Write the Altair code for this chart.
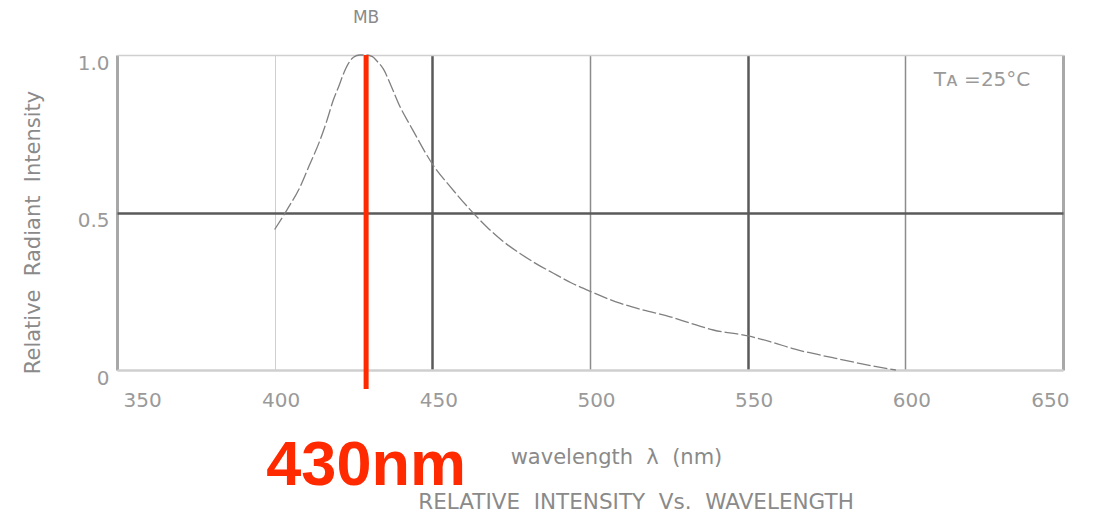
import altair as alt
import pandas as pd

# ---- data ----
wavelength = [400, 404, 408, 411, 414.4, 416.5, 418.6, 420.5, 421.8, 423.5, 425, 427, 429,
              431, 432.5, 434.5, 437, 439.8, 442.5, 445, 447.5, 450.2, 455.6, 461.9, 467.2,
              472, 477.8, 483, 488.4, 494, 500.2, 509.5, 517, 525.4, 532, 539.1, 550.2,
              557.1, 565, 577, 587, 597]
intensity = [0.446, 0.51, 0.58, 0.65, 0.73, 0.79, 0.857, 0.905, 0.94, 0.975, 0.993, 1.0, 1.0,
             0.995, 0.98, 0.955, 0.90, 0.835, 0.785, 0.74, 0.695, 0.651, 0.583, 0.51, 0.455,
             0.412, 0.37, 0.337, 0.307, 0.277, 0.249, 0.212, 0.19, 0.169, 0.148, 0.127, 0.108,
             0.09, 0.066, 0.039, 0.018, 0.0]

x_ticks = [350, 400, 450, 500, 550, 600, 650]
y_ticks = [0, 0.5, 1.0]

peak_nm = [429]
peak_label = ["430nm"]
series_label = ["MB"]
temp_label = ["T\u1d00 =25\u00b0C"]
temp_pos_nm = [609]
temp_pos_val = [0.92]
marker_top = [1.0]
marker_bottom = [-0.06]
baseline_val = [0.0]

NB = "\u00a0"
x_title = f"wavelength{NB}{NB}\u03bb{NB}{NB}(nm)"
y_title = f"Relative{NB}{NB}Radiant{NB}{NB}Intensity"
main_title = [f"RELATIVE{NB}{NB}INTENSITY{NB}{NB}Vs.{NB}{NB}WAVELENGTH"]

curve = pd.DataFrame({"wl": wavelength, "val": intensity})
peak = pd.DataFrame({"wl": peak_nm, "top": marker_top, "bottom": marker_bottom,
                     "base": baseline_val, "label": peak_label, "series": series_label})
temp = pd.DataFrame({"wl": temp_pos_nm, "val": temp_pos_val, "label": temp_label})
caption = pd.DataFrame({"label": main_title})

FONT = "DejaVu Sans"
GREY = "#9a9a9a"

x_scale = alt.Scale(domain=[350, 650], nice=False, zero=False)
y_scale = alt.Scale(domain=[0, 1], nice=False)

x_axis = alt.Axis(
    values=x_ticks, ticks=False, domain=False, labelOffset=6, labelPadding=20,
    labelFontSize=20, labelColor=GREY, labelFont=FONT,
    title=x_title, titleFont=FONT, titleFontSize=21,
    titleFontWeight="normal", titleColor="#8a8a8a",
    titleX=499, titleY=87, titleAlign="center", titleBaseline="middle",
    gridColor={"condition": [
        {"test": "datum.value == 450 || datum.value == 550", "value": "#5a5a5a"},
        {"test": "datum.value == 350 || datum.value == 650", "value": "#a8a8a8"},
        {"test": "datum.value == 400", "value": "#cfcfcf"}],
        "value": "#8c8c8c"},
    gridWidth={"condition": [
        {"test": "datum.value == 450 || datum.value == 550", "value": 2.5},
        {"test": "datum.value == 350 || datum.value == 650", "value": 3},
        {"test": "datum.value == 400", "value": 1}],
        "value": 1.5},
    labelAngle=0,
)

y_axis = alt.Axis(
    values=y_ticks, ticks=False, domain=False, labelOffset=8, labelPadding=8,
    labelFontSize=20, labelColor=GREY, labelFont=FONT,
    labelExpr="datum.value == 0 ? '0' : format(datum.value, '.1f')",
    title=y_title, titleFont=FONT, titleFontSize=21,
    titleFontWeight="normal", titleColor="#8a8a8a", titleAngle=270,
    titleX=-84, titleY=177, titleAlign="center", titleBaseline="middle",
    gridColor={"condition": [
        {"test": "datum.value == 0.5", "value": "#5a5a5a"}],
        "value": "#cfcfcf"},
    gridWidth={"condition": [
        {"test": "datum.value == 0.5", "value": 2.5},
        {"test": "datum.value == 0", "value": 2.5}],
        "value": 1.5},
)

line = alt.Chart(curve).mark_line(
    color="#808080", strokeWidth=1.3, strokeDash=[14, 3], interpolate="monotone"
).encode(
    x=alt.X("wl:Q", scale=x_scale, axis=x_axis),
    y=alt.Y("val:Q", scale=y_scale, axis=y_axis),
)

rule = alt.Chart(peak).mark_rule(color="#ff2a00", strokeWidth=5).encode(
    x=alt.X("wl:Q", scale=x_scale),
    y=alt.Y("top:Q", scale=y_scale),
    y2="bottom:Q",
)

big_label = alt.Chart(peak).mark_text(
    font="Liberation Sans", fontWeight="bold", fontSize=63, color="#ff2a00",
    align="center", baseline="alphabetic", dy=115,
).encode(
    x=alt.X("wl:Q", scale=x_scale),
    y=alt.Y("base:Q", scale=y_scale),
    text="label:N",
)

mb = alt.Chart(peak).mark_text(
    font=FONT, fontSize=17, color="#8a8a8a", align="center", baseline="middle", dy=-37,
).encode(
    x=alt.X("wl:Q", scale=x_scale),
    y=alt.Y("top:Q", scale=y_scale),
    text="series:N",
)

tlabel = alt.Chart(temp).mark_text(
    font=FONT, fontSize=20, color="#9a9a9a", align="left", baseline="middle",
).encode(
    x=alt.X("wl:Q", scale=x_scale),
    y=alt.Y("val:Q", scale=y_scale),
    text="label:N",
)

# chart caption below the axis title
cap = alt.Chart(caption).mark_text(
    font=FONT, fontSize=21.5, color="#8a8a8a", align="center", baseline="middle",
).encode(
    x=alt.value(519),
    y=alt.value(448),
    text="label:N",
)

chart = alt.layer(line, rule, big_label, mb, tlabel, cap).properties(
    width=946, height=315,
    autosize=alt.AutoSizeParams(type="none"),
    padding={"left": 117, "top": 55, "right": 36, "bottom": 147},
).configure_view(stroke=None).configure(background="white")

chart.save("out.html", embed_options={"renderer": "svg", "actions": False})
